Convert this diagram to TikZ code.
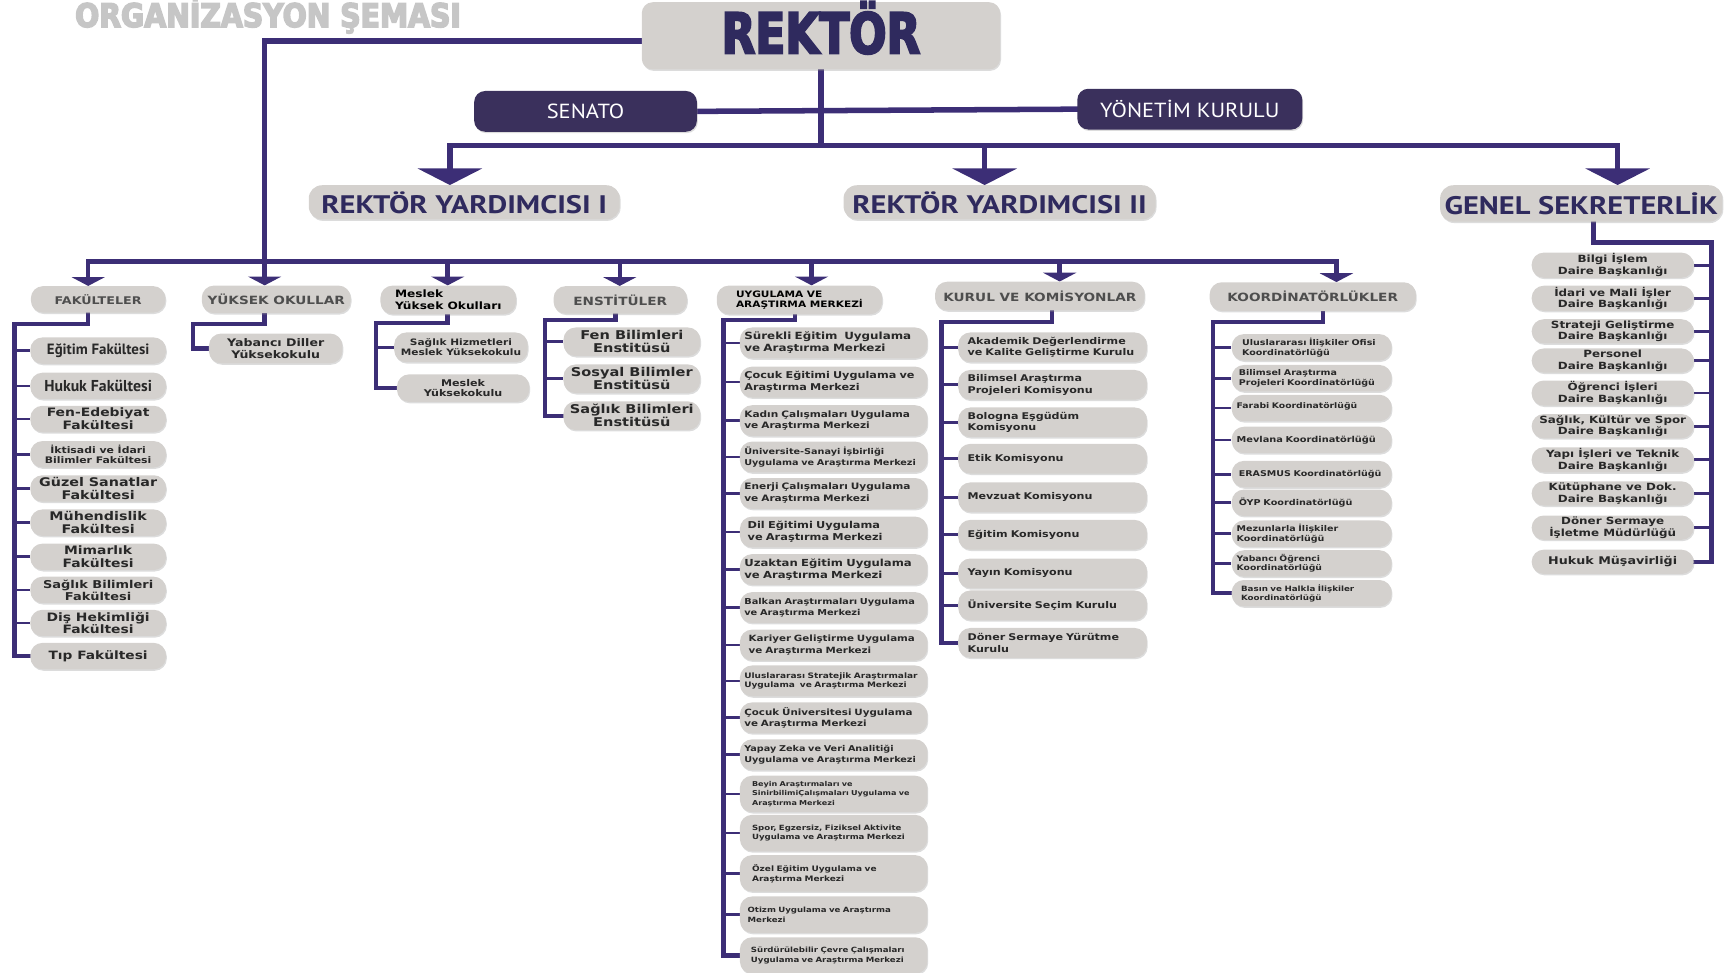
\documentclass[tikz,border=0pt]{standalone}
\usepackage{fontspec}
\setmainfont{DejaVu Sans}
\newfontfamily\itf{DejaVu Sans}[FakeStretch=1.2]
\newfontfamily\rkf{DejaVu Sans}[FakeStretch=0.78]
\newfontfamily\ttlf{DejaVu Sans}[FakeStretch=0.87]
\newfontfamily\ptw{PT Sans}[FakeStretch=1.2]
\newfontfamily\pts{PT Sans}[FakeStretch=1.1]
\newfontfamily\ptf{PT Sans}
\newcommand\heavytext[2]{\special{pdf:literal direct 2 Tr #1 w}#2\special{pdf:literal direct 0 Tr}}
\usetikzlibrary{arrows.meta,shadows}
\pgfdeclarelayer{bg}
\pgfsetlayers{bg,main}
\definecolor{linec}{RGB}{60,46,118}
\definecolor{navy}{RGB}{47,42,94}
\definecolor{senc}{RGB}{58,48,92}
\definecolor{boxg}{RGB}{212,209,206}
\definecolor{titg}{RGB}{198,198,198}
\definecolor{itxt}{RGB}{40,40,40}
\definecolor{htxt}{RGB}{78,78,78}
\tikzset{
  box/.style={fill=boxg, rounded corners=11pt, inner sep=1pt, align=center, text=itxt,
    drop shadow={shadow xshift=0.8pt, shadow yshift=-1.3pt, opacity=0.3, fill=black!45}},
  fs/.style 2 args={font=\itf\bfseries\fontsize{#1}{#2}\selectfont},
  ln/.style={draw=linec, line width=5pt, line cap=rect},
  busl/.style={draw=linec, line width=4pt, line cap=rect},
  sln/.style={draw=linec, line width=4pt, line cap=rect},
  tk/.style={draw=linec, line width=2.5pt},
  barr/.style={draw=linec, line width=5pt, -{Triangle[width=58pt,length=15pt]}},
  sarr/.style={draw=linec, line width=4pt, -{Triangle[width=30pt,length=8pt]}},
  top/.style={box, rounded corners=12pt, text=navy, font=\ptw\bfseries\fontsize{23}{25}\selectfont, minimum height=31pt},
  dark/.style={fill=senc, rounded corners=10pt, text=white, font=\pts\fontsize{18.5}{20}\selectfont, minimum height=37pt,
    drop shadow={shadow xshift=0.8pt, shadow yshift=-1.3pt, opacity=0.3, fill=black!45}},
  hd/.style={box, font=\itf\bfseries\fontsize{10.3}{11.5}\selectfont, text=htxt, minimum height=25pt},
  fk/.style={box, minimum width=123pt, minimum height=24pt},
  uy/.style={box, minimum width=170pt, minimum height=28pt, text width=162pt, align=left},
  uyb/.style={uy, minimum height=33pt},
  ku/.style={box, minimum width=171pt, minimum height=27pt, text width=154pt, align=left},
  ko/.style={box, minimum width=145pt, minimum height=24pt, text width=136pt, align=left},
  gsi/.style={box, minimum width=147pt, minimum height=22pt},
}
\begin{document}
\begin{tikzpicture}[x=1pt,y=-1pt]
\useasboundingbox (0,0) rectangle (1568,882);

% title
\node[anchor=base west, inner sep=0pt, text=titg, font=\ttlf\bfseries\fontsize{29.5}{31}\selectfont] (title) at (68,24.5) {\heavytext{1.4}{ORGANİZASYON ŞEMASI}};

% top level
\node[box, rounded corners=10pt, minimum width=325pt, minimum height=61pt, text=navy,
  font=\rkf\bfseries\fontsize{51}{53}\selectfont, text height=32pt, text depth=0pt] (rek) at (744.5,32.5) {\heavytext{1.8}{REKTÖR}};
\node[dark, minimum width=202pt] (sen) at (531,101) {SENATO};
\node[dark, minimum width=204pt] (yk) at (1079,99) {YÖNETİM KURULU};

\node[top, minimum width=282pt] (ry1) at (421,183.5) {REKTÖR YARDIMCISI I};
\node[top, minimum width=283pt] (ry2) at (906.5,183.5) {REKTÖR YARDIMCISI II};
\node[top, minimum width=256pt, minimum height=33pt] (gs) at (1434,184.5) {GENEL SEKRETERLİK};

% headers
\node[hd, minimum width=122pt, minimum height=24pt, font=\itf\bfseries\fontsize{9.6}{11}\selectfont] (fak) at (89,271.5) {FAKÜLTELER};
\node[hd, minimum width=135pt] (yo) at (250.5,271.5) {YÜKSEK OKULLAR};
\node[box, minimum width=123pt, minimum height=26pt, align=left, text=black, fs={9.2}{10.5}] (mes) at (406.5,272) {Meslek\\Yüksek Okulları};
\node[hd, minimum width=121pt] (ens) at (562.5,272) {ENSTİTÜLER};
\node[box, minimum width=150pt, minimum height=26pt, align=left, text=black, fs={8}{9.2}] (uyg) at (725,272) {UYGULAMA VE\\ARAŞTIRMA MERKEZİ};
\node[hd, minimum width=190pt, minimum height=26pt] (kur) at (943,268.5) {KURUL VE KOMİSYONLAR};
\node[hd, minimum width=187pt, minimum height=26pt] (koo) at (1190.5,269) {KOORDİNATÖRLÜKLER};

% Fakulteler
\node[fk, font=\ptf\bfseries\fontsize{13.5}{15}\selectfont] (f1) at (89,318) {Eğitim Fakültesi};
\node[fk, font=\ptf\bfseries\fontsize{14.3}{15}\selectfont] (f2) at (89,350) {Hukuk Fakültesi};
\node[fk, fs={10.5}{11.8}] (f3) at (89,380) {Fen-Edebiyat\\Fakültesi};
\node[fk, fs={8.2}{9.7}] (f4) at (89,412) {İktisadi ve İdari\\Bilimler Fakültesi};
\node[fk, fs={10.8}{11.8}] (f5) at (89,443) {Güzel Sanatlar\\Fakültesi};
\node[fk, fs={10.8}{11.8}] (f6) at (89,474) {Mühendislik\\Fakültesi};
\node[fk, fs={10.5}{11.8}] (f7) at (89,505) {Mimarlık\\Fakültesi};
\node[fk, fs={9.8}{10.8}] (f8) at (89,535) {Sağlık Bilimleri\\Fakültesi};
\node[fk, fs={10.5}{11.5}] (f9) at (89,565) {Diş Hekimliği\\Fakültesi};
\node[fk, fs={10.4}{12}] (f10) at (89,595) {Tıp Fakültesi};

% Yuksek okullar
\node[box, minimum width=121pt, minimum height=27pt, fs={9.5}{10.8}] (y1) at (250,316) {Yabancı Diller\\Yüksekokulu};

% Meslek
\node[box, minimum width=121pt, minimum height=27pt, fs={8}{9.5}] (m1) at (418,315) {Sağlık Hizmetleri\\Meslek Yüksekokulu};
\node[box, minimum width=120pt, minimum height=25pt, fs={8.4}{9.8}] (m2) at (420,352) {Meslek\\Yüksekokulu};

% Enstituler
\node[box, minimum width=124pt, minimum height=26pt, fs={11}{11.8}] (e1) at (573,310) {Fen Bilimleri\\Enstitüsü};
\node[box, minimum width=124pt, minimum height=26pt, fs={11}{11.8}] (e2) at (573,343.5) {Sosyal Bilimler\\Enstitüsü};
\node[box, minimum width=124pt, minimum height=26pt, fs={11}{11.8}] (e3) at (573,377) {Sağlık Bilimleri\\Enstitüsü};

% Uygulama ve arastirma merkezleri
\node[uy, fs={9}{11}] (u1) at (756,311) {Sürekli Eğitim\ \ Uygulama\\ve Araştırma Merkezi};
\node[uy, fs={8.5}{10.8}] (u2) at (756,346.5) {Çocuk Eğitimi Uygulama ve\\Araştırma Merkezi};
\node[uy, fs={8}{10.3}] (u3) at (756,381.5) {Kadın Çalışmaları Uygulama\\ve Araştırma Merkezi};
\node[uy, fs={7.3}{9.5}] (u4) at (756,414.5) {Üniversite-Sanayi İşbirliği\\Uygulama ve Araştırma Merkezi};
\node[uy, fs={8}{10.8}] (u5) at (756,447.5) {Enerji Çalışmaları Uygulama\\ve Araştırma Merkezi};
\node[uy, fs={8.6}{10.8}] (u6) at (756,482.5) {\hspace{3pt}Dil Eğitimi Uygulama\\\hspace{3pt}ve Araştırma Merkezi};
\node[uy, fs={8.8}{10.8}] (u7) at (756,516.5) {Uzaktan Eğitim Uygulama\\ve Araştırma Merkezi};
\node[uy, fs={7.4}{9.5}] (u8) at (756,551) {Balkan Araştırmaları Uygulama\\ve Araştırma Merkezi};
\node[uy, fs={7.8}{10}] (u9) at (756,585) {\hspace{4pt}Kariyer Geliştirme Uygulama\\\hspace{4pt}ve Araştırma Merkezi};
\node[uy, fs={6.8}{8.8}] (u10) at (756,617.5) {Uluslararası Stratejik Araştırmalar\\Uygulama\ \ ve Araştırma Merkezi};
\node[uy, fs={7.8}{10}] (u11) at (756,651) {Çocuk Üniversitesi Uygulama\\ve Araştırma Merkezi};
\node[uy, fs={7.3}{9.5}] (u12) at (756,684.5) {Yapay Zeka ve Veri Analitiği\\Uygulama ve Araştırma Merkezi};
\node[uyb, fs={6.1}{8.4}] (u13) at (756,720) {\hspace{7pt}Beyin Araştırmaları ve\\\hspace{7pt}SinirbilimiÇalışmaları Uygulama ve\\\hspace{7pt}Araştırma Merkezi};
\node[uyb, fs={6.5}{9}] (u14) at (756,755.5) {\hspace{7pt}Spor, Egzersiz, Fiziksel Aktivite\\\hspace{7pt}Uygulama ve Araştırma Merkezi};
\node[uyb, fs={6.8}{9}] (u15) at (756,792) {\hspace{7pt}Özel Eğitim Uygulama ve\\\hspace{7pt}Araştırma Merkezi};
\node[uyb, fs={6.5}{9}] (u16) at (756,829.5) {\hspace{3pt}Otizm Uygulama ve Araştırma\\\hspace{3pt}Merkezi};
\node[uyb, fs={6.5}{9}] (u17) at (756,866.5) {\hspace{6pt}Sürdürülebilir Çevre Çalışmaları\\\hspace{6pt}Uygulama ve Araştırma Merkezi};

% Kurul ve komisyonlar
\node[ku, fs={8.4}{10.5}] (k1) at (954.5,315) {Akademik Değerlendirme\\ve Kalite Geliştirme Kurulu};
\node[ku, fs={8.4}{10.5}] (k2) at (954.5,349) {Bilimsel Araştırma\\Projeleri Komisyonu};
\node[ku, fs={8.4}{10.5}] (k3) at (954.5,383) {Bologna Eşgüdüm\\Komisyonu};
\node[ku, fs={8.4}{10.5}] (k4) at (954.5,416) {Etik Komisyonu};
\node[ku, fs={8.4}{10.5}] (k5) at (954.5,451) {Mevzuat Komisyonu};
\node[ku, fs={8.4}{10.5}] (k6) at (954.5,485) {Eğitim Komisyonu};
\node[ku, fs={8.4}{10.5}] (k7) at (954.5,520) {Yayın Komisyonu};
\node[ku, fs={8.4}{10.5}] (k8) at (954.5,549) {Üniversite Seçim Kurulu};
\node[ku, fs={8.4}{10.5}] (k9) at (954.5,583) {Döner Sermaye Yürütme\\Kurulu};

% Koordinatorlukler
\node[ko, fs={7.2}{8.8}] (c1) at (1189.5,315) {\hspace{5pt}Uluslararası İlişkiler Ofisi\\\hspace{5pt}Koordinatörlüğü};
\node[ko, fs={7.2}{8.8}] (c2) at (1189.5,343) {\hspace{2pt}Bilimsel Araştırma\\\hspace{2pt}Projeleri Koordinatörlüğü};
\node[ko, fs={7}{8.8}, text depth=5pt] (c3) at (1189.5,370) {Farabi Koordinatörlüğü};
\node[ko, fs={7.4}{8.8}] (c4) at (1189.5,399) {Mevlana Koordinatörlüğü};
\node[ko, fs={7.2}{8.8}] (c5) at (1189.5,430) {\hspace{2pt}ERASMUS Koordinatörlüğü};
\node[ko, fs={7.3}{8.8}] (c6) at (1189.5,456) {\hspace{2pt}ÖYP Koordinatörlüğü};
\node[ko, fs={7.2}{8.8}] (c7) at (1189.5,484) {Mezunlarla İlişkiler\\Koordinatörlüğü};
\node[ko, fs={7}{8.6}] (c8) at (1189.5,511) {Yabancı Öğrenci\\Koordinatörlüğü};
\node[ko, fs={6.6}{8.5}] (c9) at (1189.5,538) {\hspace{4pt}Basın ve Halkla İlişkiler\\\hspace{4pt}Koordinatörlüğü};

% Genel sekreterlik
\node[gsi, fs={9}{10.5}] (g1) at (1462.5,240.5) {Bilgi İşlem\\Daire Başkanlığı};
\node[gsi, fs={9}{10.5}] (g2) at (1462.5,270.5) {İdari ve Mali İşler\\Daire Başkanlığı};
\node[gsi, fs={9}{10.5}] (g3) at (1462.5,300.5) {Strateji Geliştirme\\Daire Başkanlığı};
\node[gsi, fs={9}{10.5}] (g4) at (1462.5,327) {Personel\\Daire Başkanlığı};
\node[gsi, fs={9}{10.5}] (g5) at (1462.5,356.5) {Öğrenci İşleri\\Daire Başkanlığı};
\node[gsi, fs={9}{10.5}] (g6) at (1462.5,386.5) {Sağlık, Kültür ve Spor\\Daire Başkanlığı};
\node[gsi, fs={9}{10.5}] (g7) at (1462.5,417) {Yapı İşleri ve Teknik\\Daire Başkanlığı};
\node[gsi, fs={9}{10.5}] (g8) at (1462.5,447.5) {Kütüphane ve Dok.\\Daire Başkanlığı};
\node[gsi, fs={9}{10.5}] (g9) at (1462.5,478.5) {Döner Sermaye\\İşletme Müdürlüğü};
\node[gsi, fs={9.6}{10.5}] (g10) at (1462.5,509.5) {Hukuk Müşavirliği};

% junction coordinates
\coordinate (hb) at (0,132);
\coordinate (a1) at (408,132);
\coordinate (a2) at (893,132);
\coordinate (a3) at (1467,132);
\coordinate (b1) at (80,237);
\coordinate (b2) at (240,237);
\coordinate (b3) at (406,237);
\coordinate (b4) at (562,237);
\coordinate (b5) at (736,237);
\coordinate (b6) at (961,237);
\coordinate (b7) at (1212,237);
\coordinate (fv) at (13,294);
\coordinate (yv) at (175,294);
\coordinate (mv) at (341,293);
\coordinate (es) at (558,0);
\coordinate (ev) at (494,290);
\coordinate (us) at (721,0);
\coordinate (uv) at (656,290);
\coordinate (ks) at (954,0);
\coordinate (kv) at (854,292);
\coordinate (cs) at (1200,0);
\coordinate (cv) at (1100,292);
\coordinate (gst) at (1445,0);
\coordinate (gv) at (1552,220);

\begin{pgfonlayer}{bg}
\draw[ln] ([yshift=-4.5pt]rek.west) -| (b2);
\draw[ln] (rek.south) -- (rek.south |- hb);
\draw[ln] (sen.east) -- (yk.west);
\draw[ln] (a1) -- (a3);
\draw[barr] (a1) -- (a1 |- ry1.north);
\draw[barr] (a2) -- (a2 |- ry2.north);
\draw[barr] (a3) -- (a3 |- gs.north);
\draw[busl] (b1) -- (b7);
\foreach \b/\n in {b1/fak,b2/yo,b3/mes,b4/ens,b5/uyg,b6/kur,b7/koo}
  \draw[sarr] (\b) -- (\b |- \n.north);
% fakulteler
\draw[sln] (b1 |- fak.south) |- (fv) |- (f10.west);
\foreach \i in {1,...,9} \draw[tk] (fv |- f\i.west) -- (f\i.west);
% yuksek okullar
\draw[sln] (b2 |- yo.south) |- (yv) |- (y1.west);
% meslek
\draw[sln] (b3 |- mes.south) |- (mv) |- (m2.west);
\draw[tk] (mv |- m1.west) -- (m1.west);
% enstituler
\draw[sln] (es |- ens.south) |- (ev) |- (e3.west);
\foreach \i in {1,2} \draw[tk] (ev |- e\i.west) -- (e\i.west);
% uygulama
\draw[sln] (us |- uyg.south) |- (uv) |- (u17.west);
\foreach \i in {1,...,16} \draw[tk] (uv |- u\i.west) -- (u\i.west);
% kurul
\draw[sln] (ks |- kur.south) |- (kv) |- (k9.west);
\foreach \i in {1,...,8} \draw[tk] (kv |- k\i.west) -- (k\i.west);
% koordinatorlukler
\draw[sln] (cs |- koo.south) |- (cv) |- (c9.west);
\foreach \i in {1,...,8} \draw[tk] (cv |- c\i.west) -- (c\i.west);
% genel sekreterlik
\draw[sln] (gst |- gs.south) |- (gv) |- (g10.east);
\foreach \i in {1,...,9} \draw[tk] (gv |- g\i.east) -- (g\i.east);
\end{pgfonlayer}
\end{tikzpicture}
\end{document}
